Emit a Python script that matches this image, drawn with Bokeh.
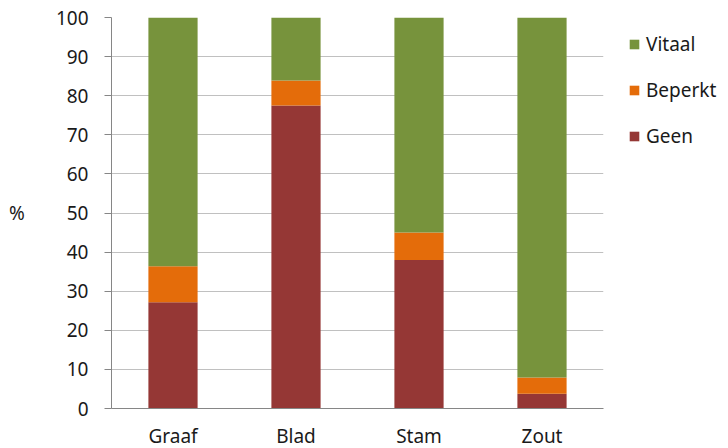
from bokeh.plotting import figure
from bokeh.models import ColumnDataSource, Legend, LegendItem, FactorRange
from bokeh.embed import file_html
from bokeh.resources import INLINE

categories = ["Graaf", "Blad", "Stam", "Zout"]
geen = [27.2, 77.5, 38.0, 3.8]
beperkt = [9.2, 6.4, 7.0, 4.1]
vitaal = [63.6, 16.1, 55.0, 92.1]
series = ["Geen", "Beperkt", "Vitaal"]
colors = ["#953735", "#E46C0A", "#77933C"]
y_ticks = list(range(0, 101, 10))

source = ColumnDataSource(dict(cat=categories, Geen=geen, Beperkt=beperkt, Vitaal=vitaal))

FONT = "Noto Sans"
FS = "19px"

p = figure(x_range=FactorRange(*categories, range_padding=0), y_range=(0, 100),
           output_backend="svg", toolbar_location=None,
           min_border_left=111, min_border_top=17, min_border_bottom=2, min_border_right=0)
p.frame_width = 492
p.frame_height = 391

renderers = p.vbar_stack(series, x="cat", width=0.4, color=colors, source=source, line_width=0)

p.outline_line_color = None
p.background_fill_color = "white"
p.border_fill_color = "white"

p.xgrid.grid_line_color = None
p.ygrid.grid_line_color = "#C0C0C0"
p.ygrid.grid_line_width = 1

p.yaxis.ticker = y_ticks
p.yaxis.minor_tick_line_color = None
p.yaxis.major_tick_in = 0
p.yaxis.major_tick_out = 7
p.yaxis.major_tick_line_color = "#868686"
p.yaxis.axis_line_color = "#868686"
p.yaxis.major_label_text_font = FONT
p.yaxis.major_label_text_font_size = FS
p.yaxis.major_label_text_color = "#1a1a1a"
p.yaxis.major_label_standoff = 16
p.yaxis.axis_label = "%"
p.yaxis.axis_label_text_font = FONT
p.yaxis.axis_label_text_font_size = FS
p.yaxis.axis_label_text_font_style = "normal"
p.yaxis.axis_label_text_color = "#1a1a1a"
p.yaxis.axis_label_standoff = 28
if hasattr(p.yaxis[0], "axis_label_orientation"):
    p.yaxis.axis_label_orientation = "horizontal"

p.xaxis.major_tick_line_color = None
p.xaxis.minor_tick_line_color = None
p.xaxis.axis_line_color = "#868686"
p.xaxis.major_label_text_font = FONT
p.xaxis.major_label_text_font_size = FS
p.xaxis.major_label_text_color = "#1a1a1a"
p.xaxis.major_label_standoff = 8

items = [LegendItem(label=s, renderers=[r]) for s, r in zip(series, renderers)][::-1]
legend = Legend(items=items, location=(25, 259), orientation="vertical",
                glyph_width=12, glyph_height=12, label_text_font=FONT,
                label_text_font_size=FS, label_text_color="#1a1a1a",
                spacing=20, padding=0, margin=0, border_line_color=None,
                background_fill_alpha=0, label_standoff=6)
p.add_layout(legend, "right")

open("out.html", "w").write(file_html(p, INLINE))
